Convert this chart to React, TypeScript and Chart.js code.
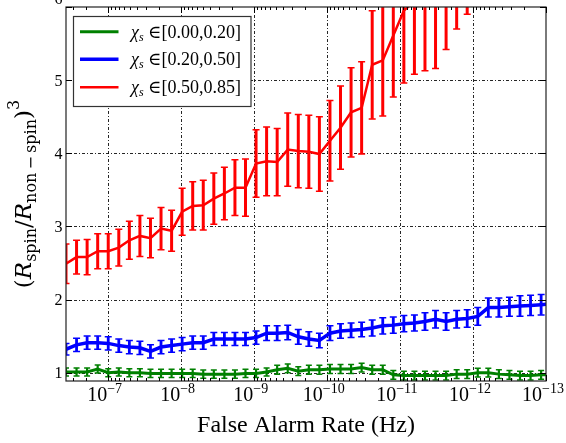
import React, { useEffect, useRef } from 'react';
import { Chart, registerables } from 'chart.js';

Chart.register(...registerables);

// False alarm rate (Hz) of each point, left to right
const FAR = [
  3.710e-7, 2.660e-7, 1.907e-7, 1.367e-7, 9.802e-8, 7.028e-8, 5.039e-8, 3.613e-8,
  2.590e-8, 1.857e-8, 1.331e-8, 9.546e-9, 6.844e-9, 4.907e-9, 3.518e-9, 2.522e-9,
  1.808e-9, 1.297e-9, 9.296e-10, 6.665e-10, 4.779e-10, 3.426e-10, 2.456e-10, 1.761e-10,
  1.263e-10, 9.053e-11, 6.491e-11, 4.654e-11, 3.337e-11, 2.392e-11, 1.715e-11, 1.230e-11,
  8.818e-12, 6.322e-12, 4.533e-12, 3.250e-12, 2.330e-12, 1.670e-12, 1.198e-12, 8.587e-13,
  6.157e-13, 4.414e-13, 3.165e-13, 2.269e-13, 1.627e-13, 1.166e-13, 8.36e-14,
];

const GREEN_MEAN = [
  1.01, 1.01, 1.01, 1.05, 1.00, 1.01, 1.00, 1.00, 0.99, 0.99, 0.99, 0.99, 0.99, 0.98, 0.98, 0.98,
  0.98, 0.99, 0.99, 1.01, 1.04, 1.06, 1.02, 1.04, 1.04, 1.05, 1.05, 1.05, 1.07, 1.04, 1.04, 0.97,
  0.96, 0.96, 0.96, 0.96, 0.96, 0.98, 0.98, 1.00, 1.00, 0.98, 0.97, 0.96, 0.96, 0.97, 0.97,
];
const GREEN_ERR = [
  0.055, 0.055, 0.055, 0.055, 0.055, 0.055, 0.055, 0.055, 0.055, 0.055, 0.055, 0.055, 0.055, 0.055, 0.055, 0.055,
  0.055, 0.055, 0.055, 0.055, 0.06, 0.06, 0.06, 0.06, 0.06, 0.06, 0.06, 0.06, 0.06, 0.06, 0.06, 0.06,
  0.06, 0.06, 0.06, 0.06, 0.06, 0.06, 0.06, 0.06, 0.06, 0.06, 0.06, 0.06, 0.06, 0.06, 0.06,
];

const BLUE_MEAN = [
  1.32, 1.38, 1.41, 1.41, 1.40, 1.37, 1.35, 1.34, 1.29, 1.35, 1.37, 1.39, 1.41, 1.41, 1.46, 1.46,
  1.46, 1.46, 1.48, 1.54, 1.54, 1.55, 1.49, 1.46, 1.44, 1.54, 1.57, 1.58, 1.59, 1.61, 1.64, 1.65,
  1.67, 1.68, 1.70, 1.73, 1.70, 1.73, 1.74, 1.77, 1.89, 1.89, 1.90, 1.91, 1.92, 1.93, 1.94,
];
const BLUE_ERR = [
  0.08, 0.09, 0.09, 0.09, 0.09, 0.09, 0.09, 0.09, 0.09, 0.09, 0.09, 0.09, 0.09, 0.09, 0.09, 0.09,
  0.09, 0.09, 0.09, 0.10, 0.10, 0.10, 0.10, 0.10, 0.10, 0.10, 0.10, 0.10, 0.10, 0.11, 0.11, 0.11,
  0.11, 0.11, 0.12, 0.12, 0.12, 0.12, 0.12, 0.12, 0.13, 0.13, 0.13, 0.14, 0.14, 0.14, 0.14,
];

const RED_MEAN = [
  2.49, 2.58, 2.58, 2.66, 2.66, 2.71, 2.81, 2.87, 2.84, 2.97, 2.94, 3.20, 3.28, 3.29, 3.38, 3.45,
  3.53, 3.53, 3.86, 3.89, 3.88, 4.05, 4.03, 4.02, 3.99, 4.17, 4.35, 4.56, 4.62, 5.21, 5.27, 5.61,
  5.95, 6.08, 6.13, 6.16, 6.42, 6.70, 6.90,
];
const RED_ERR = [
  0.27, 0.23, 0.24, 0.24, 0.24, 0.25, 0.26, 0.28, 0.27, 0.29, 0.28, 0.32, 0.33, 0.34, 0.35, 0.36,
  0.38, 0.39, 0.46, 0.47, 0.46, 0.50, 0.50, 0.50, 0.51, 0.55, 0.57, 0.61, 0.63, 0.74, 0.76, 0.84,
  0.99, 1.00, 1.00, 1.00, 1.00, 1.00, 1.00,
];

const LEGEND_RANGES = ['[0.00,0.20]', '[0.20,0.50]', '[0.50,0.85]'];
const X_TICKS = [1e-7, 1e-8, 1e-9, 1e-10, 1e-11, 1e-12, 1e-13];
const X_TICK_EXPS = ['\u22127', '\u22128', '\u22129', '\u221210', '\u221211', '\u221212', '\u221213'];
const Y_TICKS = [1, 2, 3, 4, 5, 6];
const X_TITLE = 'False Alarm Rate (Hz)';

const X_MIN = 1e-13;
const X_MAX = 3.71e-7;
const Y_MIN = 0.886;
const Y_MAX = 6;

const SERIF = '"Liberation Serif", "DejaVu Serif", serif';
const DSERIF = '"DejaVu Serif", serif';

const SERIES = [
  { range: LEGEND_RANGES[0], mean: GREEN_MEAN, err: GREEN_ERR, color: '#008000', lineWidth: 3, barWidth: 2.2, cap: 3 },
  { range: LEGEND_RANGES[1], mean: BLUE_MEAN, err: BLUE_ERR, color: '#0000ff', lineWidth: 3.5, barWidth: 2.8, cap: 3.5 },
  { range: LEGEND_RANGES[2], mean: RED_MEAN, err: RED_ERR, color: '#ff0000', lineWidth: 2.5, barWidth: 3, cap: 3.5 },
];

type Run = { t: string; f: string; dy?: number };

function runsWidth(ctx: CanvasRenderingContext2D, runs: Run[]) {
  let w = 0;
  for (const r of runs) {
    ctx.font = r.f;
    w += ctx.measureText(r.t).width;
  }
  return w;
}

function drawRuns(ctx: CanvasRenderingContext2D, runs: Run[], x: number, y: number) {
  let cx = x;
  for (const r of runs) {
    ctx.font = r.f;
    ctx.fillText(r.t, cx, y + (r.dy || 0));
    cx += ctx.measureText(r.t).width;
  }
}

const decorPlugin = {
  id: 'decor',
  beforeDatasetsDraw(chart: any) {
    const { ctx, chartArea: a, scales } = chart;
    const xs = scales.x;
    const ys = scales.y;
    ctx.save();
    // grid
    ctx.strokeStyle = 'rgba(0,0,0,0.85)';
    ctx.lineWidth = 1;
    ctx.setLineDash([3, 2, 1, 2]);
    for (const v of X_TICKS) {
      const px = Math.round(xs.getPixelForValue(v)) + 0.5;
      if (px > a.right - 2) continue;
      ctx.beginPath();
      ctx.moveTo(px, a.top);
      ctx.lineTo(px, a.bottom);
      ctx.stroke();
    }
    for (const v of Y_TICKS) {
      const py = Math.round(ys.getPixelForValue(v)) + 0.5;
      if (py < a.top + 2) continue;
      ctx.beginPath();
      ctx.moveTo(a.left, py);
      ctx.lineTo(a.right, py);
      ctx.stroke();
    }
    ctx.setLineDash([]);
    // error bars
    ctx.beginPath();
    ctx.rect(a.left, a.top, a.right - a.left, a.bottom - a.top);
    ctx.clip();
    for (const s of SERIES) {
      ctx.strokeStyle = s.color;
      for (let i = 0; i < s.mean.length; i++) {
        const px = xs.getPixelForValue(FAR[i]);
        const yt = ys.getPixelForValue(s.mean[i] + s.err[i]);
        const yb = ys.getPixelForValue(s.mean[i] - s.err[i]);
        ctx.lineWidth = s.barWidth;
        ctx.beginPath();
        ctx.moveTo(px, yt);
        ctx.lineTo(px, yb);
        ctx.stroke();
        ctx.lineWidth = 1.5;
        ctx.beginPath();
        ctx.moveTo(px - s.cap, yt);
        ctx.lineTo(px + s.cap, yt);
        ctx.moveTo(px - s.cap, yb);
        ctx.lineTo(px + s.cap, yb);
        ctx.stroke();
      }
    }
    ctx.restore();
  },
  afterDatasetsDraw(chart: any) {
    const { ctx, chartArea: a, scales } = chart;
    const xs = scales.x;
    const ys = scales.y;
    ctx.save();
    // frame
    ctx.strokeStyle = '#222';
    ctx.lineWidth = 1.2;
    ctx.strokeRect(a.left, a.top, a.right - a.left, a.bottom - a.top);
    // ticks
    ctx.strokeStyle = '#000';
    ctx.lineWidth = 1;
    for (let n = -14; n <= -6; n++) {
      for (let m = 1; m <= 9; m++) {
        const v = m * Math.pow(10, n);
        if (v < X_MIN * 0.999 || v > X_MAX) continue;
        const px = Math.round(xs.getPixelForValue(v)) + 0.5;
        const len = m === 1 ? 6 : 3;
        ctx.beginPath();
        ctx.moveTo(px, a.top);
        ctx.lineTo(px, a.top + len);
        ctx.moveTo(px, a.bottom);
        ctx.lineTo(px, a.bottom - len);
        ctx.stroke();
      }
    }
    for (const v of Y_TICKS) {
      const py = Math.round(ys.getPixelForValue(v)) + 0.5;
      ctx.beginPath();
      ctx.moveTo(a.left, py);
      ctx.lineTo(a.left + 6, py);
      ctx.moveTo(a.right, py);
      ctx.lineTo(a.right - 6, py);
      ctx.stroke();
    }
    // tick labels
    ctx.fillStyle = '#000';
    ctx.textBaseline = 'alphabetic';
    ctx.textAlign = 'right';
    ctx.font = `16px ${SERIF}`;
    for (const v of Y_TICKS) {
      let py = ys.getPixelForValue(v) + 5.6;
      if (v === Y_MAX) py -= 9;
      ctx.fillText(String(v), a.left - 3.5, py);
    }
    ctx.textAlign = 'left';
    X_TICKS.forEach((v, i) => {
      const px = xs.getPixelForValue(v);
      const runs: Run[] = [
        { t: '10', f: `20px ${SERIF}` },
        { t: X_TICK_EXPS[i], f: `14px ${SERIF}`, dy: -8 },
      ];
      const w = runsWidth(ctx, runs);
      drawRuns(ctx, runs, px - w / 2 - 3, 401);
    });
    // x title
    ctx.textAlign = 'center';
    ctx.font = `24px ${SERIF}`;
    ctx.fillText(X_TITLE, (a.left + a.right) / 2, 432);
    // y title
    ctx.textAlign = 'left';
    const yRuns: Run[] = [
      { t: '(', f: `23px ${DSERIF}` },
      { t: 'R', f: `italic 23px ${DSERIF}` },
      { t: 'spin', f: `16px ${DSERIF}`, dy: 5 },
      { t: '/', f: `23px ${DSERIF}` },
      { t: 'R', f: `italic 23px ${DSERIF}` },
      { t: 'non\u2009\u2212\u2009spin', f: `16px ${DSERIF}`, dy: 5 },
      { t: ')', f: `23px ${DSERIF}` },
      { t: '3', f: `16px ${DSERIF}`, dy: -12 },
    ];
    ctx.translate(31, (a.top + a.bottom) / 2);
    ctx.rotate(-Math.PI / 2);
    const yw = runsWidth(ctx, yRuns);
    drawRuns(ctx, yRuns, -yw / 2, 0);
    ctx.setTransform(1, 0, 0, 1, 0, 0);
    // legend
    const lx = 73.5, ly = 16.5, lw = 177.5, lh = 90;
    ctx.fillStyle = '#fff';
    ctx.fillRect(lx, ly, lw, lh);
    ctx.strokeStyle = '#333';
    ctx.lineWidth = 1.2;
    ctx.strokeRect(lx, ly, lw, lh);
    const rows = [31.7, 59.3, 87.3];
    SERIES.forEach((s, i) => {
      const ry = rows[i];
      ctx.strokeStyle = s.color;
      ctx.lineWidth = s.lineWidth;
      ctx.beginPath();
      ctx.moveTo(80, ry);
      ctx.lineTo(118.5, ry);
      ctx.stroke();
      ctx.fillStyle = '#000';
      const runs: Run[] = [
        { t: '\u03c7', f: `italic 18px ${SERIF}` },
        { t: 's', f: `italic 12px ${SERIF}`, dy: 3 },
        { t: ' \u2208', f: `18px ${SERIF}` },
        { t: s.range, f: `18px ${SERIF}` },
      ];
      drawRuns(ctx, runs, 131, ry + 6);
    });
    ctx.restore();
  },
};

export default function App() {
  const ref = useRef<HTMLCanvasElement>(null);
  useEffect(() => {
    document.body.style.margin = '0';
    const canvas = ref.current!;
    const chart = new Chart(canvas, {
      type: 'line',
      data: {
        datasets: SERIES.map((s) => ({
          label: s.range,
          data: s.mean.map((y, i) => ({ x: FAR[i], y })),
          borderColor: s.color,
          backgroundColor: s.color,
          borderWidth: s.lineWidth,
          pointRadius: 0,
          tension: 0,
          fill: false,
          clip: 0,
        })),
      },
      options: {
        responsive: false,
        animation: false,
        devicePixelRatio: 1,
        events: [],
        layout: { padding: { top: 7, right: 20, left: 0, bottom: 0 } },
        plugins: { legend: { display: false }, tooltip: { enabled: false } },
        scales: {
          x: {
            type: 'logarithmic',
            reverse: true,
            min: X_MIN,
            max: X_MAX,
            ticks: { display: false },
            grid: { display: false },
            border: { display: false },
            afterFit: (s: any) => {
              s.height = 62;
            },
          },
          y: {
            type: 'linear',
            min: Y_MIN,
            max: Y_MAX,
            ticks: { display: false },
            grid: { display: false },
            border: { display: false },
            afterFit: (s: any) => {
              s.width = 66;
            },
          },
        },
      } as any,
      plugins: [decorPlugin],
    });
    return () => chart.destroy();
  }, []);
  return (
    <div style={{ width: 566, height: 443 }}>
      <canvas ref={ref} width={566} height={443} style={{ display: 'block' }} />
    </div>
  );
}
